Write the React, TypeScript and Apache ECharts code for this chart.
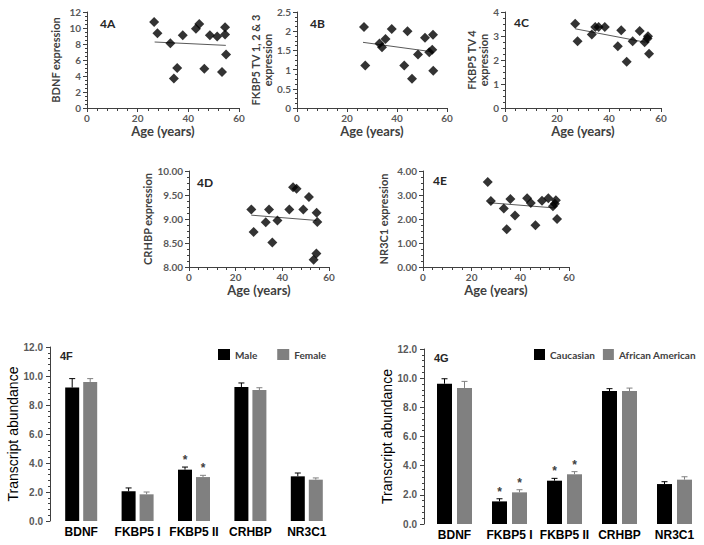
import React, { useEffect, useRef } from "react";
import * as echarts from "echarts";

// ---- Scatter data (Age vs expression) ----
const agesA = [26.5, 27.8, 32.9, 34.3, 35.6, 37.8, 43.0, 44.3, 46.3, 48.5, 51.4, 53.3, 54.5, 54.5, 54.9];
const bdnfExpr = [10.75, 9.33, 8.1, 3.7, 5.0, 9.1, 9.9, 10.5, 4.9, 9.1, 8.95, 4.5, 9.2, 10.1, 6.7];
const bdnfTrend = [[26.7, 8.25], [54.8, 7.83]];

const agesB = [26.8, 27.3, 33.0, 34.0, 35.4, 37.9, 42.9, 44.2, 46.0, 48.4, 51.2, 52.9, 54.1, 54.4, 54.5];
const fkbp5Tv123Expr = [2.11, 1.11, 1.68, 1.58, 1.8, 2.06, 1.11, 2.0, 0.76, 1.39, 1.83, 1.45, 1.52, 1.91, 0.97];
const fkbp5Tv123Trend = [[26.4, 1.71], [53.4, 1.47]];

const agesC = [27.0, 27.9, 33.4, 34.7, 36.0, 38.4, 43.4, 44.7, 46.8, 49.1, 51.8, 53.7, 54.8, 55.0, 55.4];
const fkbp5Tv4Expr = [3.51, 2.78, 3.06, 3.38, 3.38, 3.38, 2.57, 3.24, 1.93, 2.78, 3.21, 2.74, 2.9, 2.99, 2.26];
const fkbp5Tv4Trend = [[27.0, 3.3], [54.0, 2.74]];

const agesD = [26.7, 27.7, 32.9, 34.3, 35.7, 37.9, 43.0, 44.6, 46.1, 49.0, 51.4, 53.4, 54.6, 54.7, 55.0];
const crhbpExpr = [9.2, 8.73, 8.93, 9.2, 8.51, 8.97, 9.2, 9.66, 9.63, 9.2, 9.46, 8.15, 8.28, 9.13, 8.94];
const crhbpTrend = [[26.7, 9.08], [54.6, 8.97]];

const agesE = [26.6, 27.9, 33.2, 34.4, 35.9, 37.8, 42.8, 44.3, 46.2, 48.9, 51.5, 53.4, 54.2, 54.6, 55.1];
const nr3c1Expr = [3.54, 2.75, 2.44, 1.57, 2.83, 2.15, 2.86, 2.67, 1.74, 2.76, 2.86, 2.53, 2.64, 2.78, 2.0];
const nr3c1Trend = [[26.9, 2.68], [54.2, 2.46]];

// ---- Bar data ----
const genes = ["BDNF", "FKBP5 I", "FKBP5 II", "CRHBP", "NR3C1"];
const male = [9.2, 2.05, 3.54, 9.24, 3.08];
const maleErr = [0.62, 0.23, 0.18, 0.28, 0.23];
const maleStar = [0, 0, 1, 0, 0];
const female = [9.59, 1.84, 3.03, 9.03, 2.85];
const femaleErr = [0.23, 0.16, 0.12, 0.16, 0.12];
const femaleStar = [0, 0, 1, 0, 0];
const caucasian = [9.62, 1.55, 2.97, 9.12, 2.74];
const caucasianErr = [0.34, 0.18, 0.16, 0.16, 0.16];
const caucasianStar = [0, 1, 1, 0, 0];
const africanAmerican = [9.33, 2.17, 3.41, 9.12, 3.04];
const africanAmericanErr = [0.45, 0.18, 0.18, 0.2, 0.2];
const africanAmericanStar = [0, 1, 1, 0, 0];

const TICK = "#595959";
const AXIS = "#404040";
const SANS = "Lato";
const ARIAL = "'Liberation Sans', Arial, sans-serif";

function zip(xs: number[], ys: number[]) {
  return xs.map((x, i) => [x, ys[i]]);
}

function buildOption() {
  const grids: any[] = [];
  const xAxes: any[] = [];
  const yAxes: any[] = [];
  const series: any[] = [];

  const scatterPanel = (
    grid: any,
    yMin: number,
    yMax: number,
    yInt: number,
    yName: string,
    yNameGap: number,
    decimals: number | null,
    ages: number[],
    vals: number[],
    trend: number[][]
  ) => {
    const idx = grids.length;
    grids.push({ ...grid, containLabel: false, outerBoundsMode: "none" });
    xAxes.push({
      type: "value",
      gridIndex: idx,
      min: 0,
      max: 60,
      interval: 20,
      axisLine: { show: true, onZero: false, lineStyle: { color: AXIS, width: 1 } },
      axisTick: { show: true, length: 4, lineStyle: { color: AXIS } },
      minorTick: { show: true, splitNumber: 5, length: 3, lineStyle: { color: AXIS } },
      splitLine: { show: false },
      axisLabel: { color: TICK, fontWeight: "bold", fontSize: 10, fontFamily: SANS, margin: 5 },
      name: "Age (years)",
      nameLocation: "middle",
      nameGap: 16,
      nameTextStyle: { color: AXIS, fontWeight: "bold", fontSize: 13, fontFamily: SANS },
    });
    yAxes.push({
      type: "value",
      gridIndex: idx,
      min: yMin,
      max: yMax,
      interval: yInt,
      axisLine: { show: true, onZero: false, lineStyle: { color: AXIS, width: 1 } },
      axisTick: { show: true, length: 4, lineStyle: { color: AXIS } },
      minorTick: { show: true, splitNumber: 4, length: 2, lineStyle: { color: AXIS } },
      splitLine: { show: false },
      axisLabel: {
        color: TICK,
        fontWeight: "bold",
        fontSize: 10,
        fontFamily: SANS,
        margin: 6,
        formatter: (v: number) => (decimals === null ? String(v) : v.toFixed(decimals)),
      },
      name: yName,
      nameLocation: "middle",
      nameGap: yNameGap,
      nameRotate: 90,
      nameTextStyle: { color: AXIS, fontWeight: "bold", fontSize: 11, fontFamily: SANS, lineHeight: 12 },
    });
    series.push({
      type: "scatter",
      xAxisIndex: idx,
      yAxisIndex: idx,
      symbol: "diamond",
      symbolSize: 10,
      itemStyle: { color: "#000" },
      data: zip(ages, vals),
      z: 3,
    });
    series.push({
      type: "line",
      xAxisIndex: idx,
      yAxisIndex: idx,
      showSymbol: false,
      symbol: "none",
      lineStyle: { color: "#595959", width: 1 },
      data: trend,
      z: 2,
    });
  };

  scatterPanel({ left: 87, top: 12, width: 152, height: 96 }, 0, 12, 2, "BDNF expression", 26, null, agesA, bdnfExpr, bdnfTrend);
  scatterPanel({ left: 297, top: 12, width: 150, height: 96 }, 0, 2.5, 0.5, "FKBP5 TV 1, 2 & 3\nexpression", 19, null, agesB, fkbp5Tv123Expr, fkbp5Tv123Trend);
  scatterPanel({ left: 505, top: 12, width: 156, height: 96 }, 0, 4, 1, "FKBP5 TV 4\nexpression", 15, null, agesC, fkbp5Tv4Expr, fkbp5Tv4Trend);
  scatterPanel({ left: 189, top: 171, width: 140, height: 96 }, 8, 10, 0.5, "CRHBP expression", 35, 2, agesD, crhbpExpr, crhbpTrend);
  scatterPanel({ left: 423, top: 171, width: 146, height: 96 }, 0, 4, 1, "NR3C1 expression", 34, 2, agesE, nr3c1Expr, nr3c1Trend);

  const errRender = (offset: number, color: string) => (params: any, api: any) => {
    const i = api.value(0);
    const v = api.value(1);
    const e = api.value(2);
    const s = api.value(3);
    const top = api.coord([i, v]);
    const hi = api.coord([i, v + e]);
    const cx = top[0] + offset;
    const children: any[] = [
      { type: "line", shape: { x1: cx, y1: top[1], x2: cx, y2: hi[1] }, style: { stroke: color, lineWidth: 1 } },
      { type: "line", shape: { x1: cx - 3, y1: hi[1], x2: cx + 3, y2: hi[1] }, style: { stroke: color, lineWidth: 1 } },
    ];
    if (s) {
      children.push({
        type: "text",
        x: cx,
        y: hi[1] - 1,
        style: {
          text: "*",
          fill: "#404040",
          font: "bold 12px 'Liberation Sans', Arial",
          textAlign: "center",
          textVerticalAlign: "bottom",
        },
      });
    }
    return { type: "group", children };
  };

  const barPanel = (
    grid: any,
    yNameGap: number,
    barWidth: number,
    gap: number,
    s1: { name: string; vals: number[]; err: number[]; star: number[] },
    s2: { name: string; vals: number[]; err: number[]; star: number[] }
  ) => {
    const idx = grids.length;
    grids.push({ ...grid, containLabel: false, outerBoundsMode: "none" });
    xAxes.push({
      type: "category",
      gridIndex: idx,
      data: genes,
      axisLine: { show: false },
      axisTick: { show: false },
      axisLabel: { color: "#000", fontWeight: "bold", fontSize: 12, fontFamily: ARIAL, margin: 5, interval: 0 },
      splitLine: { show: false },
    });
    yAxes.push({
      type: "value",
      gridIndex: idx,
      min: 0,
      max: 12,
      interval: 2,
      offset: 3,
      axisLine: { show: true, lineStyle: { color: AXIS, width: 1 } },
      axisTick: { show: true, length: 4, lineStyle: { color: AXIS } },
      minorTick: { show: true, splitNumber: 5, length: 2, lineStyle: { color: AXIS } },
      splitLine: { show: false },
      axisLabel: {
        color: TICK,
        fontWeight: "bold",
        fontSize: 10,
        fontFamily: ARIAL,
        margin: 7,
        formatter: (v: number) => v.toFixed(1),
      },
      name: "Transcript abundance",
      nameLocation: "middle",
      nameGap: yNameGap,
      nameRotate: 90,
      nameTextStyle: { color: "#000", fontSize: 14, fontFamily: ARIAL },
    });
    const off = (barWidth + gap) / 2;
    const defs = [
      { s: s1, color: "#000", o: -off },
      { s: s2, color: "#808080", o: off },
    ];
    defs.forEach(({ s, color }) => {
      series.push({
        type: "bar",
        name: s.name,
        xAxisIndex: idx,
        yAxisIndex: idx,
        data: s.vals,
        barWidth,
        barGap: `${((gap / barWidth) * 100).toFixed(1)}%`,
        itemStyle: { color },
      });
    });
    defs.forEach(({ s, color, o }) => {
      series.push({
        type: "custom",
        xAxisIndex: idx,
        yAxisIndex: idx,
        data: s.vals.map((v, i) => [i, v, s.err[i], s.star[i]]),
        renderItem: errRender(o, color),
        z: 5,
      });
    });
  };

  barPanel(
    { left: 53, top: 347, width: 282, height: 174 },
    30,
    14,
    4,
    { name: "Male", vals: male, err: maleErr, star: maleStar },
    { name: "Female", vals: female, err: femaleErr, star: femaleStar }
  );
  barPanel(
    { left: 427, top: 349, width: 275, height: 175 },
    28,
    15,
    5,
    { name: "Caucasian", vals: caucasian, err: caucasianErr, star: caucasianStar },
    { name: "African American", vals: africanAmerican, err: africanAmericanErr, star: africanAmericanStar }
  );

  const legendText = { fontWeight: "bold", fontSize: 10, color: "#404040", fontFamily: SANS };

  const panelLabel = (text: string, x: number, y: number, font: string) => ({
    type: "text",
    x,
    y,
    style: { text, font, fill: "#262626", textVerticalAlign: "top" },
  });

  return {
    animation: false,
    backgroundColor: "#fff",
    grid: grids,
    xAxis: xAxes,
    yAxis: yAxes,
    series,
    legend: [
      {
        data: ["Male", "Female"],
        left: 218,
        top: 349,
        width: 300,
        orient: "horizontal",
        icon: "rect",
        itemWidth: 12,
        itemHeight: 11,
        itemGap: 20,
        padding: 0,
        selectedMode: false,
        textStyle: legendText,
      },
      {
        data: ["Caucasian", "African American"],
        left: 534,
        top: 349,
        width: 300,
        orient: "horizontal",
        icon: "rect",
        itemWidth: 11,
        itemHeight: 11,
        itemGap: 8,
        padding: 0,
        selectedMode: false,
        textStyle: legendText,
      },
    ],
    graphic: [
      panelLabel("4A", 100, 17, `bold 12px ${SANS}`),
      panelLabel("4B", 310, 17, `bold 12px ${SANS}`),
      panelLabel("4C", 514, 16, `bold 12px ${SANS}`),
      panelLabel("4D", 197, 176, `bold 12px ${SANS}`),
      panelLabel("4E", 433, 174, `bold 12px ${SANS}`),
      panelLabel("4F", 60, 350, `bold 11px ${ARIAL}`),
      panelLabel("4G", 434, 352, `bold 11px ${ARIAL}`),
    ],
  };
}

export default function App() {
  const ref = useRef<HTMLDivElement>(null);
  useEffect(() => {
    if (!ref.current) return;
    const chart = echarts.init(ref.current, undefined, { renderer: "svg" });
    chart.setOption(buildOption() as any);
    return () => chart.dispose();
  }, []);
  return (
    <div
      ref={ref}
      style={{ position: "fixed", left: 0, top: 0, width: 704, height: 545, background: "#fff" }}
    />
  );
}
